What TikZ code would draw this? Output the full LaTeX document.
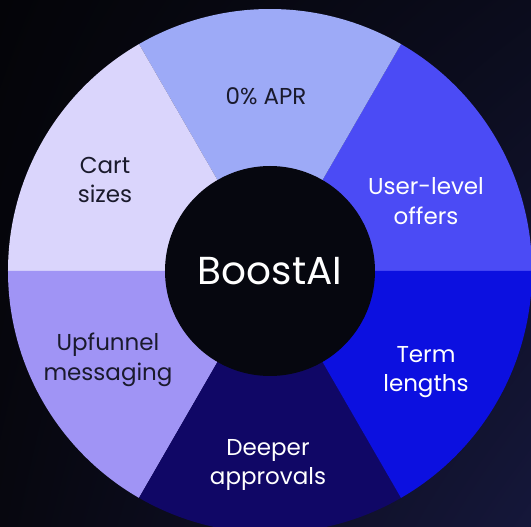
\documentclass[tikz,border=0pt]{standalone}
\usepackage{fontspec}
\setmainfont{Poppins}
\usetikzlibrary{positioning,shadings}

\definecolor{bgtl}{HTML}{040408}
\definecolor{bgbr}{HTML}{15173A}
\definecolor{bgtr}{HTML}{0B0C1C}
\definecolor{bgbl}{HTML}{07070F}
\definecolor{aprblue}{HTML}{9DAAF7}
\definecolor{offerblue}{HTML}{4B4BF5}
\definecolor{termblue}{HTML}{0C10E0}
\definecolor{approvalnavy}{HTML}{100766}
\definecolor{funnelviolet}{HTML}{A094F5}
\definecolor{cartlilac}{HTML}{DAD5FC}
\definecolor{corenavy}{HTML}{06070F}
\definecolor{inkdark}{HTML}{1A1A2C}

\begin{document}
\begin{tikzpicture}[x=1pt,y=1pt,
    seglabel/.style={align=center, font=\fontsize{23}{29.5}\selectfont},
    darkink/.style={seglabel, text=inkdark},
    lightink/.style={seglabel, text=white}]
    \useasboundingbox (-270,-256) rectangle (261,271);
    \shade[upper left=bgtl, upper right=bgtr, lower left=bgbl, lower right=bgbr] (-270,-256) rectangle (261,271);
    \clip (-270,-256) rectangle (261,271);
    % wheel segments
    \fill[offerblue] (0,0) -- (0:262) arc (0:60:262) -- cycle;
    \fill[aprblue] (0,0) -- (60:262) arc (60:120:262) -- cycle;
    \fill[cartlilac] (0,0) -- (120:262) arc (120:180:262) -- cycle;
    \fill[funnelviolet] (0,0) -- (180:262) arc (180:240:262) -- cycle;
    \fill[approvalnavy] (0,0) -- (240:262) arc (240:300:262) -- cycle;
    \fill[termblue] (0,0) -- (300:262) arc (300:360:262) -- cycle;
    % hub
    \fill[corenavy] (0,0) circle (105pt);
    \node[text=white, font=\fontsize{39}{44}\selectfont] (hub) at (0,0) {BoostAI};
    % labels
    \node[darkink] (apr) at (-4,175) {0\% APR};
    \node[lightink] (offers) at (156,70) {User-level\\offers};
    \node[lightink] (terms) at (156,-101) {Term\\lengths};
    \node[lightink] (approvals) at (-2,-194) {Deeper\\approvals};
    \node[darkink] (funnel) at (-162,-89) {Upfunnel\\messaging};
    \node[darkink] (cart) at (-165,91) {Cart\\sizes};
\end{tikzpicture}
\end{document}
